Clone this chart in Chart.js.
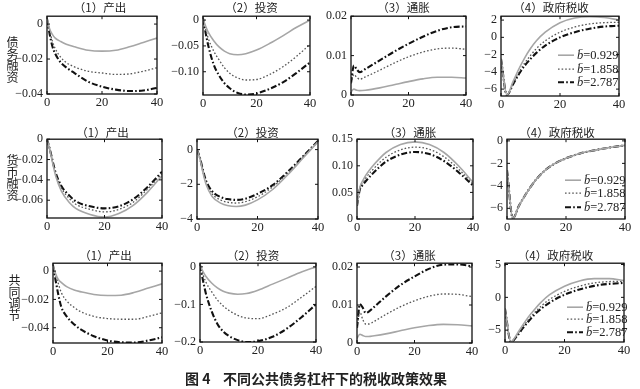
<!DOCTYPE html>
<html><head><meta charset="utf-8">
<script src="https://cdn.jsdelivr.net/npm/chart.js@4.4.0/dist/chart.umd.min.js"></script>
<style>
body{margin:0;background:#fff;width:640px;height:389px;position:relative;overflow:hidden;}
canvas{position:absolute;}
.t{position:absolute;font:11.5px "Noto Sans CJK SC";color:#222;white-space:nowrap;transform:translateX(-50%);line-height:14px;}
.rl{position:absolute;font:12px "Noto Sans CJK SC";width:13px;line-height:11.7px;color:#222;text-align:center;}
.cap{position:absolute;font:bold 14px "Noto Sans CJK SC";color:#222;white-space:nowrap;line-height:16px;}
</style></head><body>
<script>
// ---------- shared labels ----------
const xTicks=[0,20,40];
const xTickLabels=['0','20','40'];
const seriesNames=['b\u0304=0.929','b\u0304=1.858','b\u0304=2.787'];
const colTitles=['（1）产出','（2）投资','（3）通胀','（4）政府税收'];
const rowLabels=['债务融资','货币融资','共同调节'];
const captionNum='图 4';
const captionText='不同公共债务杠杆下的税收政策效果';

// ---------- row 1 : 债务融资 ----------
const r1c1_x=[0,1,2,3,5,7,10,15,20,25,30,35,40];
const r1c1_a=[0.003,-0.003,-0.006,-0.008,-0.010,-0.0115,-0.013,-0.015,-0.0155,-0.015,-0.013,-0.0105,-0.008];
const r1c1_b=[0.003,-0.004,-0.010,-0.014,-0.019,-0.022,-0.0245,-0.027,-0.028,-0.0288,-0.0285,-0.027,-0.025];
const r1c1_c=[0.003,-0.006,-0.013,-0.017,-0.022,-0.0248,-0.028,-0.033,-0.0358,-0.0375,-0.0383,-0.038,-0.0365];
const r1c1_yt=[0,-0.02,-0.04];
const r1c1_yl=['0','\u22120.02','\u22120.04'];

const r1c2_x=[0,1,2,4,6,8,10,13,16,20,25,30,35,40];
const r1c2_a=[0.003,-0.012,-0.024,-0.040,-0.052,-0.060,-0.065,-0.067,-0.065,-0.058,-0.045,-0.030,-0.014,0.0];
const r1c2_b=[0.003,-0.018,-0.036,-0.060,-0.077,-0.092,-0.103,-0.112,-0.116,-0.115,-0.105,-0.090,-0.070,-0.047];
const r1c2_c=[0.003,-0.025,-0.050,-0.086,-0.107,-0.122,-0.132,-0.141,-0.144,-0.142,-0.133,-0.120,-0.102,-0.082];
const r1c2_yt=[0,-0.05,-0.1];
const r1c2_yl=['0','\u22120.05','\u22120.10'];

const r1c3_x=[0,1,2,3,5,10,15,20,25,30,35,40];
const r1c3_a=[0.0008,0.0015,0.0012,0.0011,0.0012,0.0018,0.0026,0.0034,0.0041,0.0045,0.0045,0.0043];
const r1c3_b=[0.003,0.0052,0.0045,0.0040,0.0046,0.0063,0.0081,0.0097,0.0109,0.0117,0.0119,0.0116];
const r1c3_c=[0.003,0.0075,0.0065,0.0058,0.0066,0.0088,0.0110,0.0130,0.0148,0.0163,0.0172,0.0174];
const r1c3_yt=[0,0.01,0.02];
const r1c3_yl=['0','0.01','0.02'];

const r1c4_x=[0,2,4,6,8,10,12,15,20,25,30,35,40];
const r1c4_a=[-2.5,-6.7,-5.2,-3.7,-2.4,-1.3,-0.4,0.6,1.7,2.25,2.4,2.3,2.0];
const r1c4_b=[-2.5,-6.7,-5.4,-4.1,-3.0,-2.1,-1.3,-0.4,0.6,1.2,1.55,1.7,1.75];
const r1c4_c=[-2.5,-6.7,-5.5,-4.3,-3.3,-2.5,-1.8,-0.95,0.0,0.6,1.0,1.25,1.35];
const r1c4_yt=[2,0,-2,-4,-6];
const r1c4_yl=['2','0','\u22122','\u22124','\u22126'];

// ---------- row 2 : 货币融资 ----------
const r2c1_x=[0,1,2,3,5,8,10,15,20,25,30,35,40];
const r2c1_a=[0,-0.011,-0.024,-0.036,-0.051,-0.063,-0.068,-0.074,-0.0765,-0.073,-0.065,-0.052,-0.036];
const r2c1_b=[0,-0.010,-0.023,-0.034,-0.048,-0.059,-0.064,-0.069,-0.0715,-0.069,-0.062,-0.049,-0.034];
const r2c1_c=[0,-0.010,-0.022,-0.033,-0.046,-0.056,-0.061,-0.066,-0.068,-0.066,-0.059,-0.047,-0.032];
const r2c1_yt=[0,-0.02,-0.04,-0.06];
const r2c1_yl=['0','\u22120.02','\u22120.04','\u22120.06'];

const r2c2_x=[0,1,2,3,5,8,10,13,16,20,25,30,35,40];
const r2c2_a=[0,-0.55,-1.35,-2.0,-2.7,-3.1,-3.22,-3.28,-3.2,-2.9,-2.3,-1.45,-0.5,0.45];
const r2c2_b=[0,-0.5,-1.25,-1.9,-2.55,-2.92,-3.03,-3.08,-3.0,-2.72,-2.15,-1.35,-0.45,0.47];
const r2c2_c=[0,-0.5,-1.2,-1.8,-2.4,-2.75,-2.85,-2.9,-2.83,-2.55,-2.05,-1.28,-0.4,0.5];
const r2c2_yt=[0,-2,-4];
const r2c2_yl=['0','\u22122','\u22124'];

const r2c3_x=[0,1,2,3,5,8,10,15,20,25,30,35,40];
const r2c3_a=[0.025,0.060,0.072,0.082,0.097,0.115,0.125,0.140,0.145,0.140,0.125,0.100,0.069];
const r2c3_b=[0.025,0.058,0.068,0.077,0.090,0.107,0.116,0.130,0.135,0.131,0.117,0.094,0.066];
const r2c3_c=[0.025,0.056,0.064,0.071,0.083,0.099,0.108,0.121,0.126,0.122,0.109,0.088,0.063];
const r2c3_yt=[0,0.05,0.1,0.15];
const r2c3_yl=['0','0.05','0.10','0.15'];

const r2c4_x=[0,2,4,6,8,10,13,16,20,25,30,35,40];
const r2c4_a=[-2.6,-6.9,-5.8,-4.9,-4.1,-3.4,-2.6,-2.05,-1.55,-1.1,-0.82,-0.58,-0.4];
const r2c4_b=[-2.6,-6.9,-5.8,-4.9,-4.1,-3.4,-2.6,-2.05,-1.55,-1.1,-0.82,-0.58,-0.4];
const r2c4_c=[-2.6,-6.9,-5.8,-4.9,-4.1,-3.4,-2.6,-2.05,-1.55,-1.1,-0.82,-0.58,-0.4];
const r2c4_yt=[0,-2,-4,-6];
const r2c4_yl=['0','\u22122','\u22124','\u22126'];

// ---------- row 3 : 共同调节 ----------
const r3c1_x=[0,1,2,3,5,8,10,15,20,25,30,35,40];
const r3c1_a=[0.004,-0.002,-0.006,-0.008,-0.011,-0.0135,-0.0145,-0.0165,-0.0172,-0.017,-0.015,-0.012,-0.009];
const r3c1_b=[0.004,-0.003,-0.009,-0.015,-0.021,-0.026,-0.0285,-0.032,-0.0335,-0.034,-0.034,-0.032,-0.0295];
const r3c1_c=[0.004,-0.007,-0.017,-0.025,-0.032,-0.038,-0.041,-0.046,-0.049,-0.0503,-0.0505,-0.049,-0.0468];
const r3c1_yt=[0,-0.02,-0.04];
const r3c1_yl=['0','\u22120.02','\u22120.04'];

const r3c2_x=[0,1,2,4,6,8,10,13,16,20,25,30,35,40];
const r3c2_a=[0.005,-0.012,-0.025,-0.043,-0.056,-0.065,-0.070,-0.073,-0.071,-0.062,-0.046,-0.030,-0.014,0.0];
const r3c2_b=[0.005,-0.020,-0.040,-0.066,-0.088,-0.104,-0.116,-0.129,-0.136,-0.138,-0.126,-0.108,-0.081,-0.052];
const r3c2_c=[0.005,-0.035,-0.070,-0.118,-0.152,-0.172,-0.184,-0.195,-0.200,-0.198,-0.186,-0.164,-0.134,-0.100];
const r3c2_yt=[0,-0.1,-0.2];
const r3c2_yl=['0','\u22120.1','\u22120.2'];

const r3c3_x=[0,1,2,3,4,6,10,15,20,25,30,35,40];
const r3c3_a=[0.0012,0.0023,0.0020,0.0017,0.0017,0.0019,0.0024,0.0032,0.0040,0.0046,0.0049,0.0048,0.0045];
const r3c3_b=[0.004,0.0082,0.0062,0.0050,0.0050,0.0057,0.0075,0.0095,0.0111,0.0123,0.0129,0.0128,0.0122];
const r3c3_c=[0.004,0.0102,0.0093,0.0079,0.0082,0.0095,0.0122,0.0152,0.0175,0.0195,0.0206,0.0207,0.0202];
const r3c3_yt=[0,0.01,0.02];
const r3c3_yl=['0','0.01','0.02'];

const r3c4_x=[0,2,4,6,8,10,12,15,20,25,30,35,40];
const r3c4_a=[-1.75,-6.8,-5.6,-4.2,-2.9,-1.8,-0.8,0.4,1.7,2.5,2.85,2.85,2.55];
const r3c4_b=[-1.75,-6.8,-5.8,-4.5,-3.3,-2.3,-1.4,-0.3,0.9,1.7,2.2,2.4,2.45];
const r3c4_c=[-1.75,-6.8,-5.9,-4.7,-3.6,-2.6,-1.8,-0.8,0.4,1.2,1.75,2.05,2.2];
const r3c4_yt=[5,0,-5];
const r3c4_yl=['5','0','\u22125'];

// ---------- layout (positions only) ----------
const YW=45, PT=10, PR=9, XH=20;
const panels=[
 {box:[47,15,157,94], x:r1c1_x, s:[r1c1_a,r1c1_b,r1c1_c], ymin:-0.04, ymax:0.0045, yt:r1c1_yt, yl:r1c1_yl, col:0},
 {box:[203,15,310,95], x:r1c2_x, s:[r1c2_a,r1c2_b,r1c2_c], ymin:-0.145, ymax:0.0075, yt:r1c2_yt, yl:r1c2_yl, col:1},
 {box:[351,15,466,95], x:r1c3_x, s:[r1c3_a,r1c3_b,r1c3_c], ymin:0, ymax:0.02, yt:r1c3_yt, yl:r1c3_yl, col:2},
 {box:[501,15,619,96], x:r1c4_x, s:[r1c4_a,r1c4_b,r1c4_c], ymin:-6.8, ymax:2.45, yt:r1c4_yt, yl:r1c4_yl, col:3, leg:{dx:57, dy:[39,53,66]}},
 {box:[47,138,162,218], x:r2c1_x, s:[r2c1_a,r2c1_b,r2c1_c], ymin:-0.0775, ymax:0, yt:r2c1_yt, yl:r2c1_yl, col:0},
 {box:[197,138,318,219], x:r2c2_x, s:[r2c2_a,r2c2_b,r2c2_c], ymin:-4, ymax:0.6, yt:r2c2_yt, yl:r2c2_yl, col:1},
 {box:[357,138,473,219], x:r2c3_x, s:[r2c3_a,r2c3_b,r2c3_c], ymin:0, ymax:0.15, yt:r2c3_yt, yl:r2c3_yl, col:2},
 {box:[507,138,625,219], x:r2c4_x, s:[r2c4_a,r2c4_b,r2c4_c], ymin:-6.95, ymax:0.15, yt:r2c4_yt, yl:r2c4_yl, col:3, leg:{dx:58, dy:[41,54,68]}},
 {box:[53,262,162,343], x:r3c1_x, s:[r3c1_a,r3c1_b,r3c1_c], ymin:-0.0508, ymax:0.0056, yt:r3c1_yt, yl:r3c1_yl, col:0},
 {box:[200,262,316,342], x:r3c2_x, s:[r3c2_a,r3c2_b,r3c2_c], ymin:-0.2, ymax:0.0097, yt:r3c2_yt, yl:r3c2_yl, col:1},
 {box:[357,262,472,343], x:r3c3_x, s:[r3c3_a,r3c3_b,r3c3_c], ymin:0, ymax:0.021, yt:r3c3_yt, yl:r3c3_yl, col:2},
 {box:[505,262,624,342], x:r3c4_x, s:[r3c4_a,r3c4_b,r3c4_c], ymin:-6.8, ymax:5.2, yt:r3c4_yt, yl:r3c4_yl, col:3, leg:{dx:62, dy:[44,56,69]}}
];
const titleY=[7,132,255];
const titleDX=[-2,-5,-5,-9];
const rowLabelPos=[[6,36],[6,154],[8,274]];

const styles=[
 {borderColor:'#a6a6a6', borderWidth:1.6, borderDash:[]},
 {borderColor:'#555555', borderWidth:1.3, borderDash:[1.6,2]},
 {borderColor:'#111111', borderWidth:2.1, borderDash:[6,2.2,1.6,2.2]}
];
const SERIF='"Liberation Serif","DejaVu Serif",serif';

const framePlugin={
 id:'frame',
 afterDatasetsDraw(chart){
  const {ctx, chartArea:a, scales:{x,y}}=chart;
  const leg=chart.options.plugins.frame.leg;
  ctx.save();
  if(leg){
   ctx.fillStyle='#fff';
   ctx.fillRect(a.left+leg.dx-4, a.top+leg.dy[0]-7, 60, leg.dy[2]-leg.dy[0]+14);
   seriesNames.forEach((nm,i)=>{
    const st=styles[i], yy=a.top+leg.dy[i];
    ctx.strokeStyle=st.borderColor; ctx.lineWidth=st.borderWidth; ctx.setLineDash(st.borderDash);
    ctx.beginPath(); ctx.moveTo(a.left+leg.dx, yy); ctx.lineTo(a.left+leg.dx+16, yy); ctx.stroke();
    ctx.setLineDash([]);
    const parts=nm.split('=');
    ctx.fillStyle='#222'; ctx.textBaseline='middle'; ctx.textAlign='left';
    ctx.font='italic 12.5px '+SERIF;
    const x0=a.left+leg.dx+19;
    ctx.fillText(parts[0], x0, yy+0.5);
    const w=ctx.measureText(parts[0]).width;
    ctx.font='12.5px '+SERIF;
    ctx.fillText('='+parts[1], x0+w, yy+0.5);
   });
  }
  ctx.strokeStyle='#111'; ctx.lineWidth=1.3; ctx.setLineDash([]);
  ctx.strokeRect(a.left, a.top, a.right-a.left, a.bottom-a.top);
  ctx.lineWidth=1;
  ctx.beginPath();
  x.ticks.forEach(t=>{const p=x.getPixelForValue(t.value);
   ctx.moveTo(p,a.bottom); ctx.lineTo(p,a.bottom-3); ctx.moveTo(p,a.top); ctx.lineTo(p,a.top+3);});
  y.ticks.forEach(t=>{const p=y.getPixelForValue(t.value);
   ctx.moveTo(a.left,p); ctx.lineTo(a.left+3,p); ctx.moveTo(a.right,p); ctx.lineTo(a.right-3,p);});
  ctx.stroke();
  ctx.restore();
 }
};

panels.forEach((p,k)=>{
 const [l,t,r,b]=p.box;
 const cv=document.createElement('canvas');
 const W=r-l+YW+PR, H=b-t+PT+XH;
 cv.width=W; cv.height=H;
 cv.style.left=(l-YW)+'px'; cv.style.top=(t-PT)+'px';
 cv.style.width=W+'px'; cv.style.height=H+'px';
 document.body.appendChild(cv);
 const datasets=p.s.map((ys,i)=>({
  data:ys.map((v,j)=>({x:p.x[j], y:v})),
  borderColor:styles[i].borderColor, borderWidth:styles[i].borderWidth, borderDash:styles[i].borderDash,
  pointRadius:0, fill:false, cubicInterpolationMode:'monotone', borderCapStyle:'butt', borderJoinStyle:'round'
 }));
 new Chart(cv,{
  type:'line',
  data:{datasets},
  options:{
   responsive:false, animation:false, devicePixelRatio:1,
   layout:{padding:{top:PT,right:PR,left:0,bottom:0}, autoPadding:false},
   plugins:{legend:{display:false}, tooltip:{enabled:false}, frame:{leg:p.leg||null}},
   scales:{
    x:{type:'linear', min:0, max:40, grid:{display:false, drawTicks:false}, border:{display:false},
       afterBuildTicks:s=>{s.ticks=xTicks.map(v=>({value:v}));},
       afterFit:s=>{s.height=XH;},
       ticks:{autoSkip:false, maxRotation:0, padding:1, color:'#222', font:{family:SERIF, size:12.5},
              callback:(v,i)=>xTickLabels[i]}},
    y:{type:'linear', min:p.ymin, max:p.ymax, grid:{display:false, drawTicks:false}, border:{display:false},
       afterBuildTicks:s=>{s.ticks=p.yt.map(v=>({value:v}));},
       afterFit:s=>{s.width=YW;},
       ticks:{autoSkip:false, padding:4, color:'#222', font:{family:SERIF, size:12},
              callback:(v,i)=>p.yl[i]}}
   }
  },
  plugins:[framePlugin]
 });
 const row=Math.floor(k/4);
 const d=document.createElement('div');
 d.className='t'; d.textContent=colTitles[p.col];
 d.style.left=((l+r)/2+titleDX[p.col])+'px'; d.style.top=(titleY[row]-7)+'px';
 document.body.appendChild(d);
});

rowLabels.forEach((txt,i)=>{
 const d=document.createElement('div');
 d.className='rl';
 d.innerHTML=txt.split('').join('<br>');
 d.style.left=rowLabelPos[i][0]+'px'; d.style.top=rowLabelPos[i][1]+'px';
 document.body.appendChild(d);
});
const c1=document.createElement('div'); c1.className='cap'; c1.textContent=captionNum;
c1.style.left='185px'; c1.style.top='370px'; document.body.appendChild(c1);
const c2=document.createElement('div'); c2.className='cap'; c2.textContent=captionText;
c2.style.left='223px'; c2.style.top='370px'; document.body.appendChild(c2);
</script>
</body></html>
